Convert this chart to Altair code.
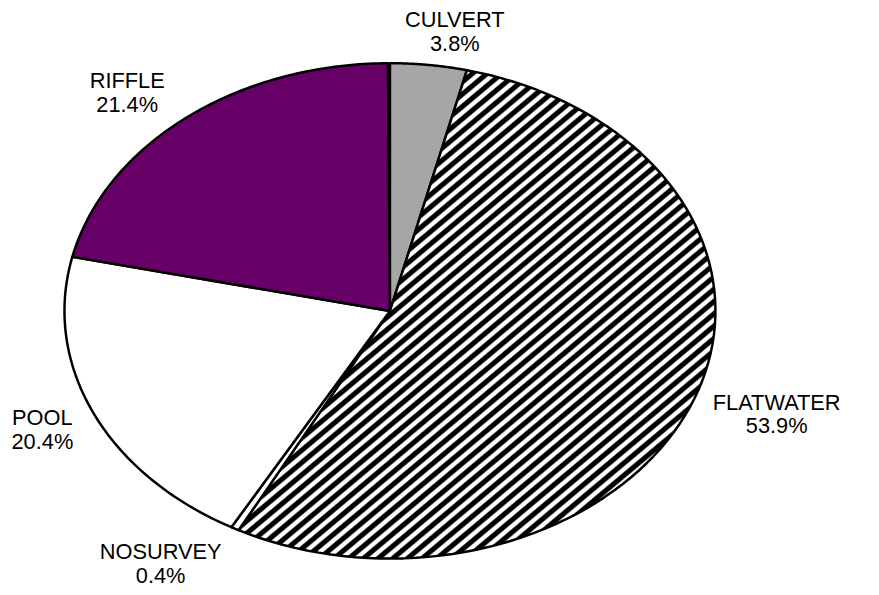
import math
import altair as alt
import pandas as pd

# ---- data ----
categories = ["CULVERT", "FLATWATER", "NOSURVEY", "POOL", "RIFFLE"]
percents = [3.8, 53.9, 0.4, 20.4, 21.4]
fills = ["#a6a6a6", "hatch", "#ffffff", "#ffffff", "#660066"]

df = pd.DataFrame({"name": categories, "pct": percents, "order": list(range(len(categories)))})

N = 90  # arc resolution

# ---- diagonal hatch as a hard-stop linear gradient ----
bw, bh = 481.0, 493.0          # approx. bbox of the hatched slice (px)
alpha = math.radians(40)       # stripe angle above horizontal
period_px = 9.5
nx, ny = math.sin(alpha), math.cos(alpha)
y2 = (math.cos(alpha) * bh) / (math.sin(alpha) * bw)
span_px = bw * nx + y2 * bh * ny
nper = int(span_px / period_px)
stops = []
for i in range(nper):
    o = i / nper
    p = 1.0 / nper
    stops += [
        alt.GradientStop(color="#000000", offset=o),
        alt.GradientStop(color="#000000", offset=o + 0.40 * p),
        alt.GradientStop(color="#ffffff", offset=o + 0.55 * p),
        alt.GradientStop(color="#ffffff", offset=o + 0.87 * p),
    ]
stops.append(alt.GradientStop(color="#000000", offset=1.0))
hatch = alt.LinearGradient(gradient="linear", stops=stops, x1=0, y1=0, x2=1, y2=y2)

base = alt.Chart(df).transform_window(
    cum="sum(pct)", sort=[alt.SortField("order")], frame=[None, 0]
).transform_calculate(
    start="datum.cum - datum.pct"
)

xs = alt.Scale(domain=[-1, 1], nice=False, zero=False)
ys = alt.Scale(domain=[-1, 1], nice=False, zero=False)

slices = base.transform_calculate(
    steps=f"sequence(0, {N + 3})"
).transform_flatten(["steps"]).transform_calculate(
    t=f"(datum.steps - 1) / {N}",
    ang="2 * PI * (datum.start + datum.pct * datum.t) / 100",
    px=f"(datum.steps == 0 || datum.steps == {N + 2}) ? 0 : sin(datum.ang)",
    py=f"(datum.steps == 0 || datum.steps == {N + 2}) ? 0 : cos(datum.ang)",
)

layers = []
for cat, f in zip(categories, fills):
    fill = hatch if f == "hatch" else f
    layers.append(
        slices.transform_filter(alt.datum.name == cat).mark_line(
            fill=fill, stroke="#000000", strokeWidth=2.5, strokeJoin="round"
        ).encode(
            x=alt.X("px:Q", scale=xs, axis=None),
            y=alt.Y("py:Q", scale=ys, axis=None),
            order=alt.Order("steps:Q"),
        )
    )

labels = base.transform_calculate(
    mid="2 * PI * (datum.start + datum.pct / 2) / 100",
    ptxt="format(datum.pct, '.1f') + '%'",
).transform_calculate(
    txt="datum.name + '\\n' + datum.ptxt",
    maxlen="max(length(datum.name), length(datum.ptxt))",
    s="sin(datum.mid)",
    c="cos(datum.mid)",
).transform_calculate(
    lx="datum.s + (datum.s >= 0 ? 1 : -1) * min(1, 3.3 * abs(datum.s)) * (11 + 8.0 * datum.maxlen) / 328.5",
    ly="datum.c * 1.148 + 0.035",
).mark_text(
    font="Liberation Sans", fontSize=22, lineHeight=24, lineBreak="\n",
    align="center", baseline="middle", color="#000000"
).encode(
    x=alt.X("lx:Q", scale=xs, axis=None),
    y=alt.Y("ly:Q", scale=ys, axis=None),
    text="txt:N",
)

chart = alt.layer(*layers, labels).properties(
    width=657, height=500,
    autosize=alt.AutoSizeParams(type="none"),
    padding={"left": 57, "top": 53, "right": 157, "bottom": 34},
).configure_view(strokeWidth=0)

chart.save("out.html", embed_options={"renderer": "svg", "actions": False})
